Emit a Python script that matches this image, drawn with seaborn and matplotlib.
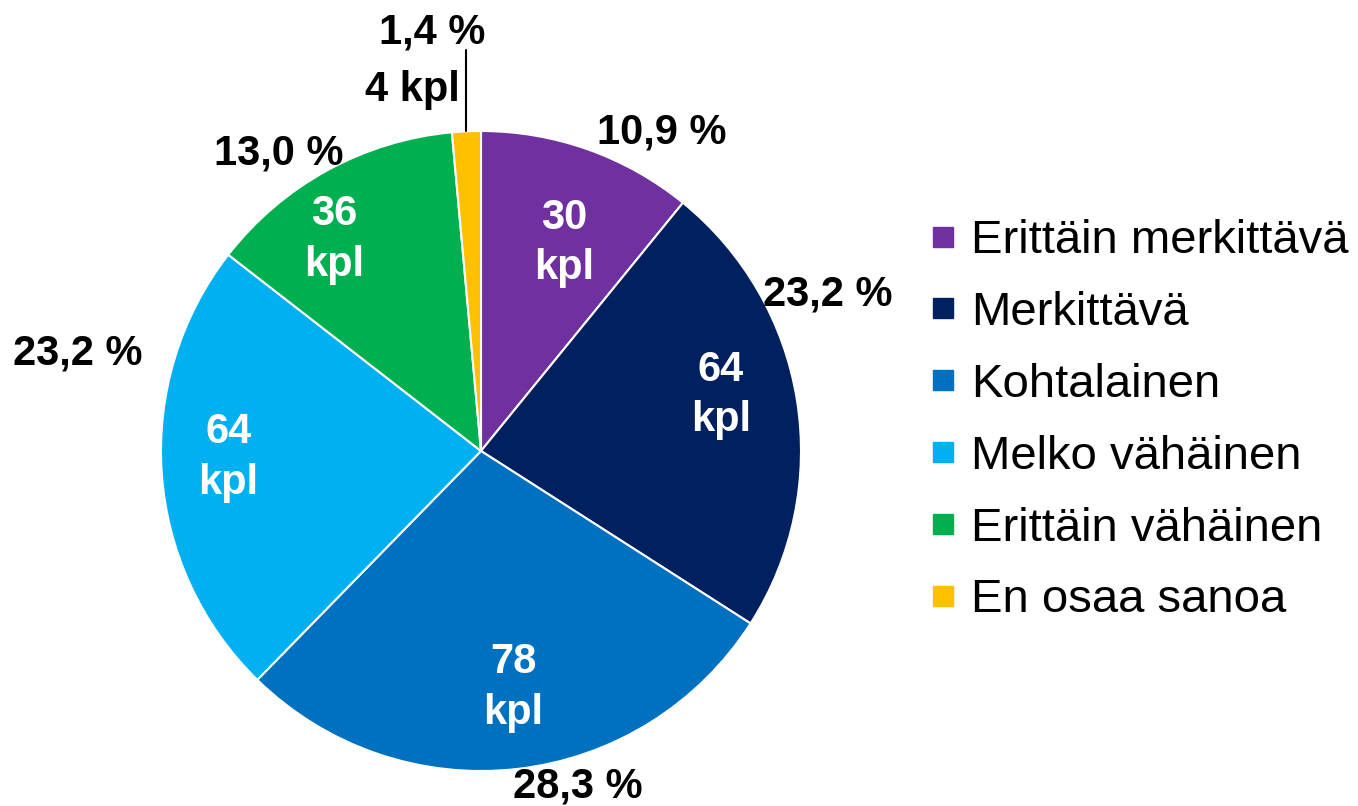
import matplotlib.pyplot as plt
import seaborn as sns
from matplotlib.lines import Line2D
import numpy as np

# Data
categories = ["Erittäin merkittävä", "Merkittävä", "Kohtalainen",
              "Melko vähäinen", "Erittäin vähäinen", "En osaa sanoa"]
counts = [30, 64, 78, 64, 36, 4]
pct_labels = ["10,9 %", "23,2 %", "28,3 %", "23,2 %", "13,0 %", "1,4 %"]
colors = ["#7030A0", "#002060", "#0070C0", "#00B0F0", "#00B050", "#FFC000"]

# Label placement (pie units, centre 0,0, radius 1)
inner_pos = [(0.26, 0.65), (0.75, 0.175), (0.10, -0.74), (-0.79, -0.02),
             (-0.46, 0.66), None]
outer_pos = [(0.566, 0.994), (1.084, 0.49), (0.303, -1.047), (-1.259, 0.306),
             (-0.631, 0.93), (-0.153, 1.309)]

sns.set_theme(style="white")
plt.rcParams["font.family"] = ["Liberation Sans", "DejaVu Sans"]
plt.rcParams["text.color"] = "black"

fig = plt.figure(figsize=(13.58, 8.06), dpi=100)
ax = fig.add_axes([0, 0, 1, 1])
ax.axis("off")

wedges, _ = ax.pie(counts, colors=colors, startangle=90, counterclock=False,
                   radius=1, wedgeprops=dict(edgecolor="white", linewidth=1.5))

ax.set_xlim(-481 / 320, (1358 - 481) / 320)
ax.set_ylim(-(806 - 451) / 320, 451 / 320)
ax.set_aspect("equal")

for i, (n, p) in enumerate(zip(counts, pct_labels)):
    if inner_pos[i] is not None:
        ax.text(*inner_pos[i], f"{n}\nkpl", ha="center", va="center",
                color="white", fontsize=30, fontweight="bold", linespacing=1.35)
    ax.text(*outer_pos[i], p, ha="center", va="center", color="black",
            fontsize=30, fontweight="bold")

# small slice: count label outside with leader line
w = wedges[-1]
mid = np.deg2rad((w.theta1 + w.theta2) / 2)
x0, y0 = np.cos(mid), np.sin(mid)
ax.plot([x0, x0], [y0, 1.253], color="black", linewidth=1.5)
ax.text(outer_pos[-1][0] - 0.06, 1.128, f"{counts[-1]} kpl", ha="center",
        va="center", color="black", fontsize=30, fontweight="bold")

handles = [Line2D([], [], marker="s", linestyle="none", markersize=15,
                  markerfacecolor=c, markeredgecolor=c) for c in colors]
leg = fig.legend(handles, categories, loc="center left",
                 bbox_to_anchor=(0.684, 0.478), frameon=False, fontsize=34,
                 handlelength=0.6, handletextpad=0.3, labelspacing=0.59,
                 borderpad=0, borderaxespad=0)
for t in leg.get_texts():
    t.set_color("black")

fig.savefig("out.png", dpi=100)
